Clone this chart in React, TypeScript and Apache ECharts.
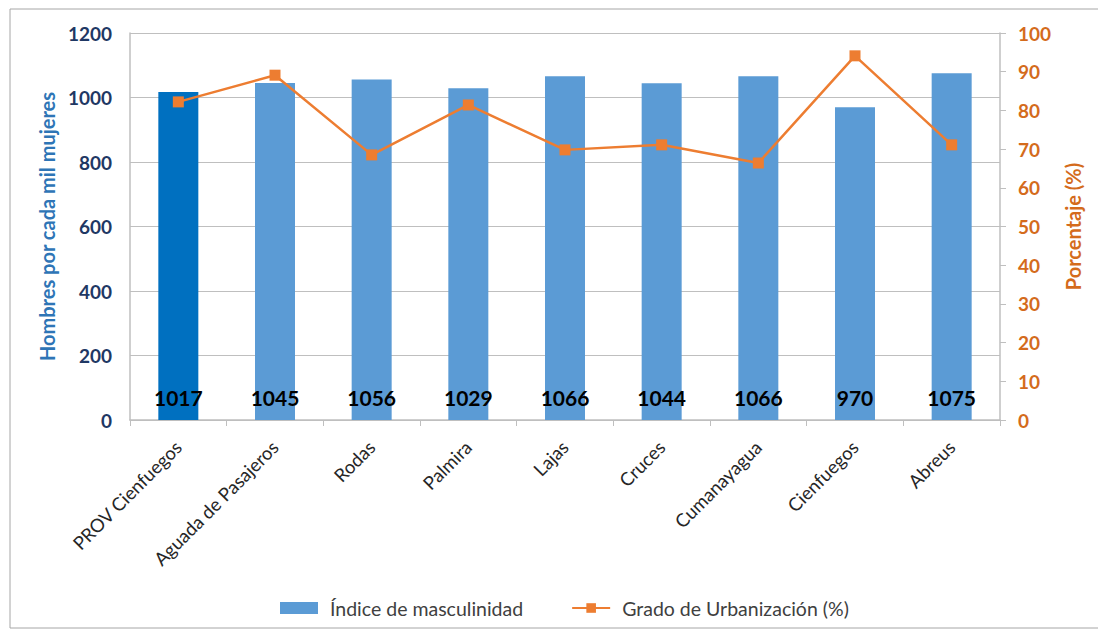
import React, { useEffect, useRef } from "react";
import * as echarts from "echarts";

const categories = [
  "PROV Cienfuegos",
  "Aguada de Pasajeros",
  "Rodas",
  "Palmira",
  "Lajas",
  "Cruces",
  "Cumanayagua",
  "Cienfuegos",
  "Abreus",
];
const masculinidad = [1017, 1045, 1056, 1029, 1066, 1044, 1066, 970, 1075];
const urbanizacion = [82.2, 89.1, 68.5, 81.4, 69.8, 71.1, 66.4, 94.1, 71.1];

const FONT = "Lato, 'Open Sans', sans-serif";

export default function App() {
  const ref = useRef<HTMLDivElement>(null);
  useEffect(() => {
    document.body.style.margin = "0";
    const chart = echarts.init(ref.current!, null, { renderer: "svg" });
    chart.setOption({
      animation: false,
      backgroundColor: "#ffffff",
      textStyle: { fontFamily: FONT },
      graphic: [
        {
          type: "rect",
          shape: { x: 10, y: 9, width: 1200, height: 619 },
          style: { fill: "none", stroke: "#A6A6A6", lineWidth: 1 },
          silent: true,
        },
      ],
      legend: {
        bottom: 20,
        left: 280,
        padding: 0,
        itemGap: 48,
        textStyle: { fontFamily: FONT, fontSize: 19.5, color: "#404040", padding: [0, 0, 0, 7] },
        data: [
          { name: "Índice de masculinidad", icon: "rect", itemStyle: { color: "#5B9BD5" } },
          { name: "Grado de Urbanización (%)" },
        ],
        itemWidth: 38,
        itemHeight: 12,
      },
      grid: { left: 130, right: 98, top: 33, bottom: 218 },
      xAxis: {
        type: "category",
        data: categories,
        axisLine: { lineStyle: { color: "#BFBFBF", width: 1.5 } },
        axisTick: { show: true, length: 6, lineStyle: { color: "#BFBFBF" } },
        axisLabel: {
          rotate: 45,
          fontFamily: FONT,
          fontSize: 18.5,
          color: "#262626",
          margin: 24,
          interval: 0,
        },
      },
      yAxis: [
        {
          type: "value",
          min: 0,
          max: 1200,
          interval: 200,
          name: "Hombres por cada mil mujeres",
          nameLocation: "middle",
          nameGap: 68,
          nameRotate: 90,
          nameTextStyle: { fontFamily: FONT, fontSize: 20, fontWeight: "bold", color: "#2E75B6" },
          axisLine: { show: true, lineStyle: { color: "#BFBFBF", width: 1.5 } },
          axisTick: { show: false },
          axisLabel: {
            fontFamily: FONT,
            fontSize: 19,
            fontWeight: "bold",
            color: "#1F3864",
            margin: 18,
            formatter: (v: number) => String(v),
          },
          splitLine: { lineStyle: { color: "#BFBFBF", width: 1 } },
        },
        {
          type: "value",
          min: 0,
          max: 100,
          interval: 10,
          name: "Porcentaje (%)",
          nameLocation: "middle",
          nameGap: 63,
          nameRotate: 90,
          nameTextStyle: { fontFamily: FONT, fontSize: 20, fontWeight: "bold", color: "#D46B1C" },
          axisLine: { show: true, lineStyle: { color: "#BFBFBF", width: 1.5 } },
          axisTick: { show: true, inside: false, length: 6, lineStyle: { color: "#BFBFBF" } },
          axisLabel: {
            fontFamily: FONT,
            fontSize: 19,
            fontWeight: "bold",
            color: "#D46B1C",
            margin: 18,
            formatter: (v: number) => String(v),
          },
          splitLine: { show: false },
        },
      ],
      series: [
        {
          name: "Índice de masculinidad",
          type: "bar",
          yAxisIndex: 0,
          barWidth: 40,
          data: masculinidad.map((v, i) =>
            i === 0 ? { value: v, itemStyle: { color: "#0070C0" } } : v
          ),
          itemStyle: { color: "#5B9BD5" },
          label: {
            show: true,
            position: "insideBottom",
            distance: 12,
            fontFamily: FONT,
            fontSize: 21,
            fontWeight: "bold",
            color: "#000000",
          },
        },
        {
          name: "Grado de Urbanización (%)",
          type: "line",
          yAxisIndex: 1,
          data: urbanizacion,
          symbol: "rect",
          symbolSize: 11,
          lineStyle: { color: "#ED7D31", width: 2.5 },
          itemStyle: { color: "#ED7D31" },
        },
      ],
    });
    return () => chart.dispose();
  }, []);
  return <div ref={ref} style={{ width: 1098, height: 638 }} />;
}
